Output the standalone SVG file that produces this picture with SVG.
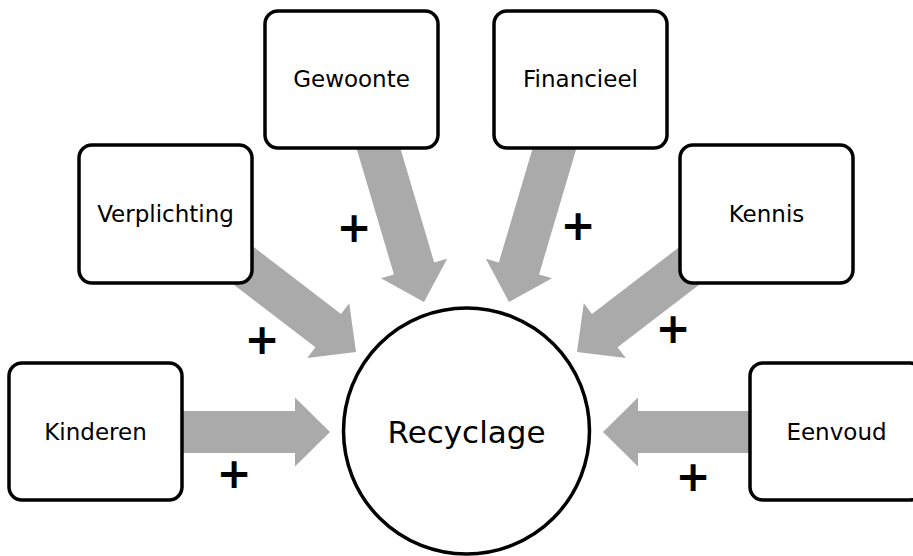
<svg xmlns="http://www.w3.org/2000/svg" xmlns:xlink="http://www.w3.org/1999/xlink" width="913" height="556" viewBox="0 0 913 556">
<style>
.box{fill:#fff;stroke:#000;stroke-width:3.5}
.lbl{font-family:"DejaVu Sans",Verdana,sans-serif;font-size:23px;fill:#000;text-anchor:middle}
.big{font-family:"DejaVu Sans",Verdana,sans-serif;font-size:31px;fill:#000;text-anchor:middle}
.plus{font-family:"DejaVu Sans",Verdana,sans-serif;font-size:42px;font-weight:bold;fill:#000;text-anchor:middle}
.arr{fill:#aaaaaa}
</style>
<defs>
<path id="arr" d="M0,0 L-35,-34.5 L-35,-21 L-170,-21 L-170,21 L-35,21 L-35,34.5 Z"/>
</defs>
<rect width="913" height="556" fill="#fff"/>
<g id="connectors" class="arr">
<use xlink:href="#arr" transform="translate(330,432)"/>
<use xlink:href="#arr" transform="translate(356,352) rotate(37.5)"/>
<use xlink:href="#arr" transform="translate(424,302) rotate(73.5)"/>
<use xlink:href="#arr" transform="translate(509,302) rotate(106.5)"/>
<use xlink:href="#arr" transform="translate(577,352) rotate(142.5)"/>
<use xlink:href="#arr" transform="translate(603,432) rotate(180)"/>
</g>
<g id="plus-signs" class="plus">
<text x="234" y="488">+</text>
<text x="262" y="354">+</text>
<text x="354" y="242">+</text>
<text x="578" y="240">+</text>
<text x="673" y="343">+</text>
<text x="693" y="491">+</text>
</g>
<g id="recyclage">
<circle class="box" cx="466.5" cy="431" r="123"/>
<text class="big" x="466.5" y="443">Recyclage</text>
</g>
<g id="kinderen">
<rect class="box" x="9" y="363" width="173" height="137" rx="13"/>
<text class="lbl" x="95.5" y="440">Kinderen</text>
</g>
<g id="verplichting">
<rect class="box" x="79" y="145" width="173" height="138" rx="13"/>
<text class="lbl" x="165.5" y="222">Verplichting</text>
</g>
<g id="gewoonte">
<rect class="box" x="265" y="11" width="173" height="137" rx="13"/>
<text class="lbl" x="351.5" y="87">Gewoonte</text>
</g>
<g id="financieel">
<rect class="box" x="494" y="11" width="173" height="137" rx="13"/>
<text class="lbl" x="580.5" y="87">Financieel</text>
</g>
<g id="kennis">
<rect class="box" x="680" y="145" width="173" height="138" rx="13"/>
<text class="lbl" x="766.5" y="222">Kennis</text>
</g>
<g id="eenvoud">
<rect class="box" x="750" y="363" width="173" height="137" rx="13"/>
<text class="lbl" x="836.5" y="440">Eenvoud</text>
</g>
</svg>
